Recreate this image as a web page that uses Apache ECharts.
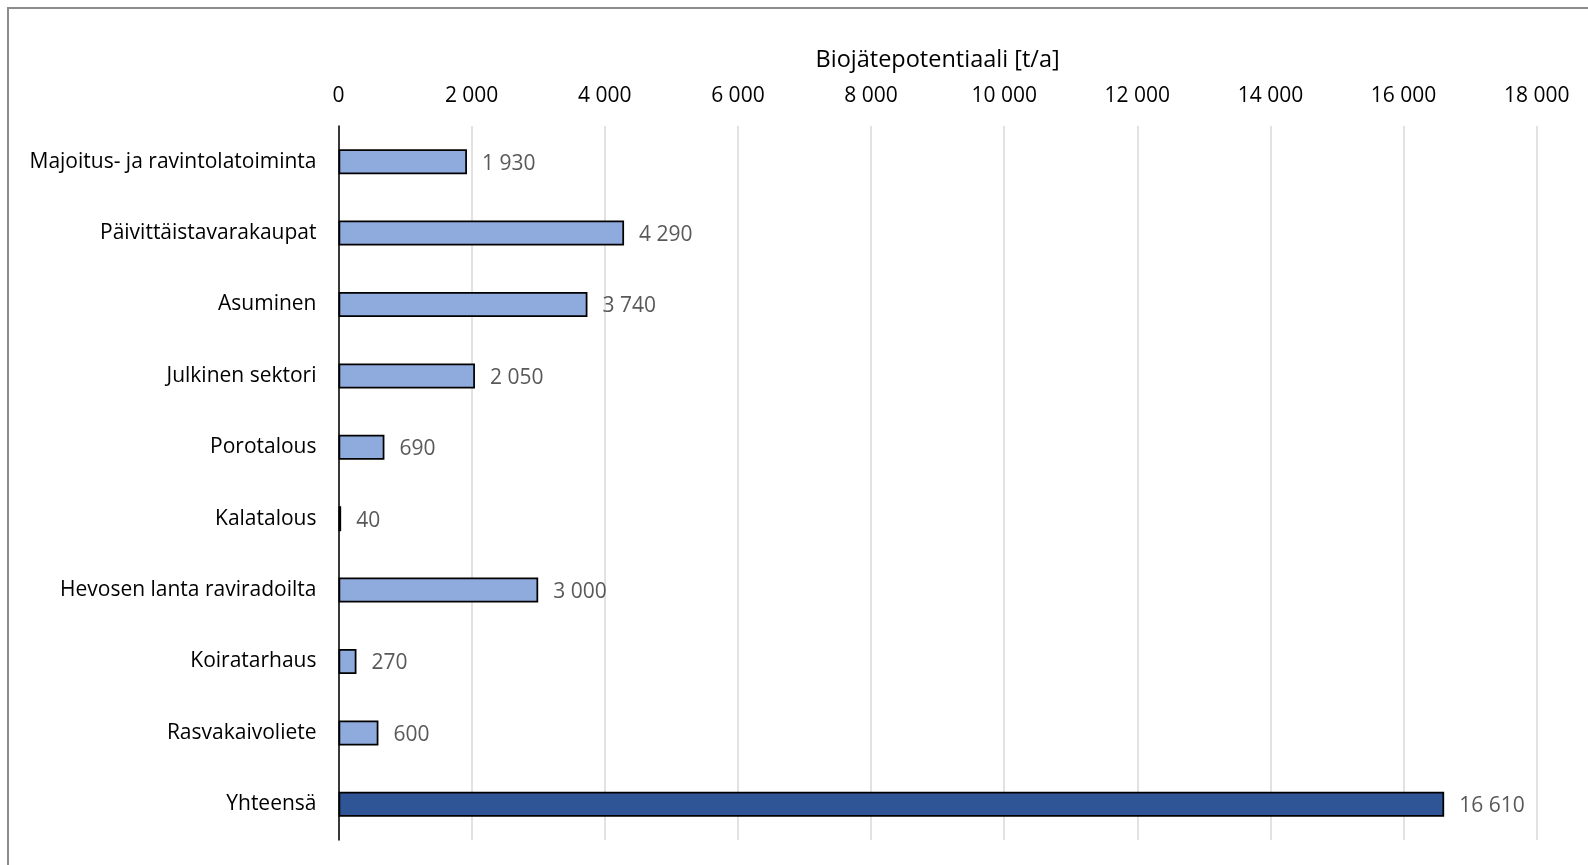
<!DOCTYPE html>
<html><head><meta charset="utf-8">
<script src="https://cdn.jsdelivr.net/npm/echarts@6/dist/echarts.min.js"></script>
<style>html,body{margin:0;padding:0;background:#fff}#c{width:1588px;height:865px}</style>
</head><body><div id="c"></div>
<script>
const categories = ["Majoitus- ja ravintolatoiminta","Päivittäistavarakaupat","Asuminen","Julkinen sektori","Porotalous","Kalatalous","Hevosen lanta raviradoilta","Koiratarhaus","Rasvakaivoliete","Yhteensä"];
const values = [1930, 4290, 3740, 2050, 690, 40, 3000, 270, 600, 16610];
const axisTitle = "Biojätepotentiaali [t/a]";
const FONT = "'Open Sans', sans-serif";
const fmt = v => String(v).replace(/\B(?=(\d{3})+(?!\d))/g, " ");
const chart = echarts.init(document.getElementById('c'), null, {renderer:'canvas'});
chart.setOption({
  animation:false,
  backgroundColor:'#fff',
  graphic:[{type:'rect', shape:{x:8,y:8,width:1700,height:1000}, style:{fill:'none', stroke:'#8c8c8c', lineWidth:2}, silent:true}],
  grid:{left:338.5, right:51.3, top:126, bottom:25},
  xAxis:{type:'value', position:'top', min:0, max:18000, interval:2000,
    name:axisTitle, nameLocation:'middle', nameGap:54,
    nameTextStyle:{fontFamily:FONT, fontSize:23.5, color:'#000'},
    axisLine:{show:false}, axisTick:{show:false},
    axisLabel:{fontFamily:FONT, fontSize:21, color:'#000', margin:19, formatter:fmt},
    splitLine:{show:true, lineStyle:{color:'#d9d9d9', width:1.5}}},
  yAxis:{type:'category', data:categories, inverse:true,
    axisLine:{show:true, lineStyle:{color:'#000', width:1.5}}, axisTick:{show:false},
    axisLabel:{fontFamily:FONT, fontSize:21, color:'#000', margin:22, padding:[6,0,0,0]}},
  series:[{type:'bar', barWidth:25,
    data: values.map((v,i)=>({value:v, itemStyle:{color: i===values.length-1 ? '#2f5597' : '#8faadc'}})),
    itemStyle:{borderColor:'#000', borderWidth:1.75},
    label:{show:true, position:'right', distance:15, offset:[0,2], fontFamily:FONT, fontSize:21, color:'#595959', formatter:p=>fmt(p.value)}}]
});
</script></body></html>
